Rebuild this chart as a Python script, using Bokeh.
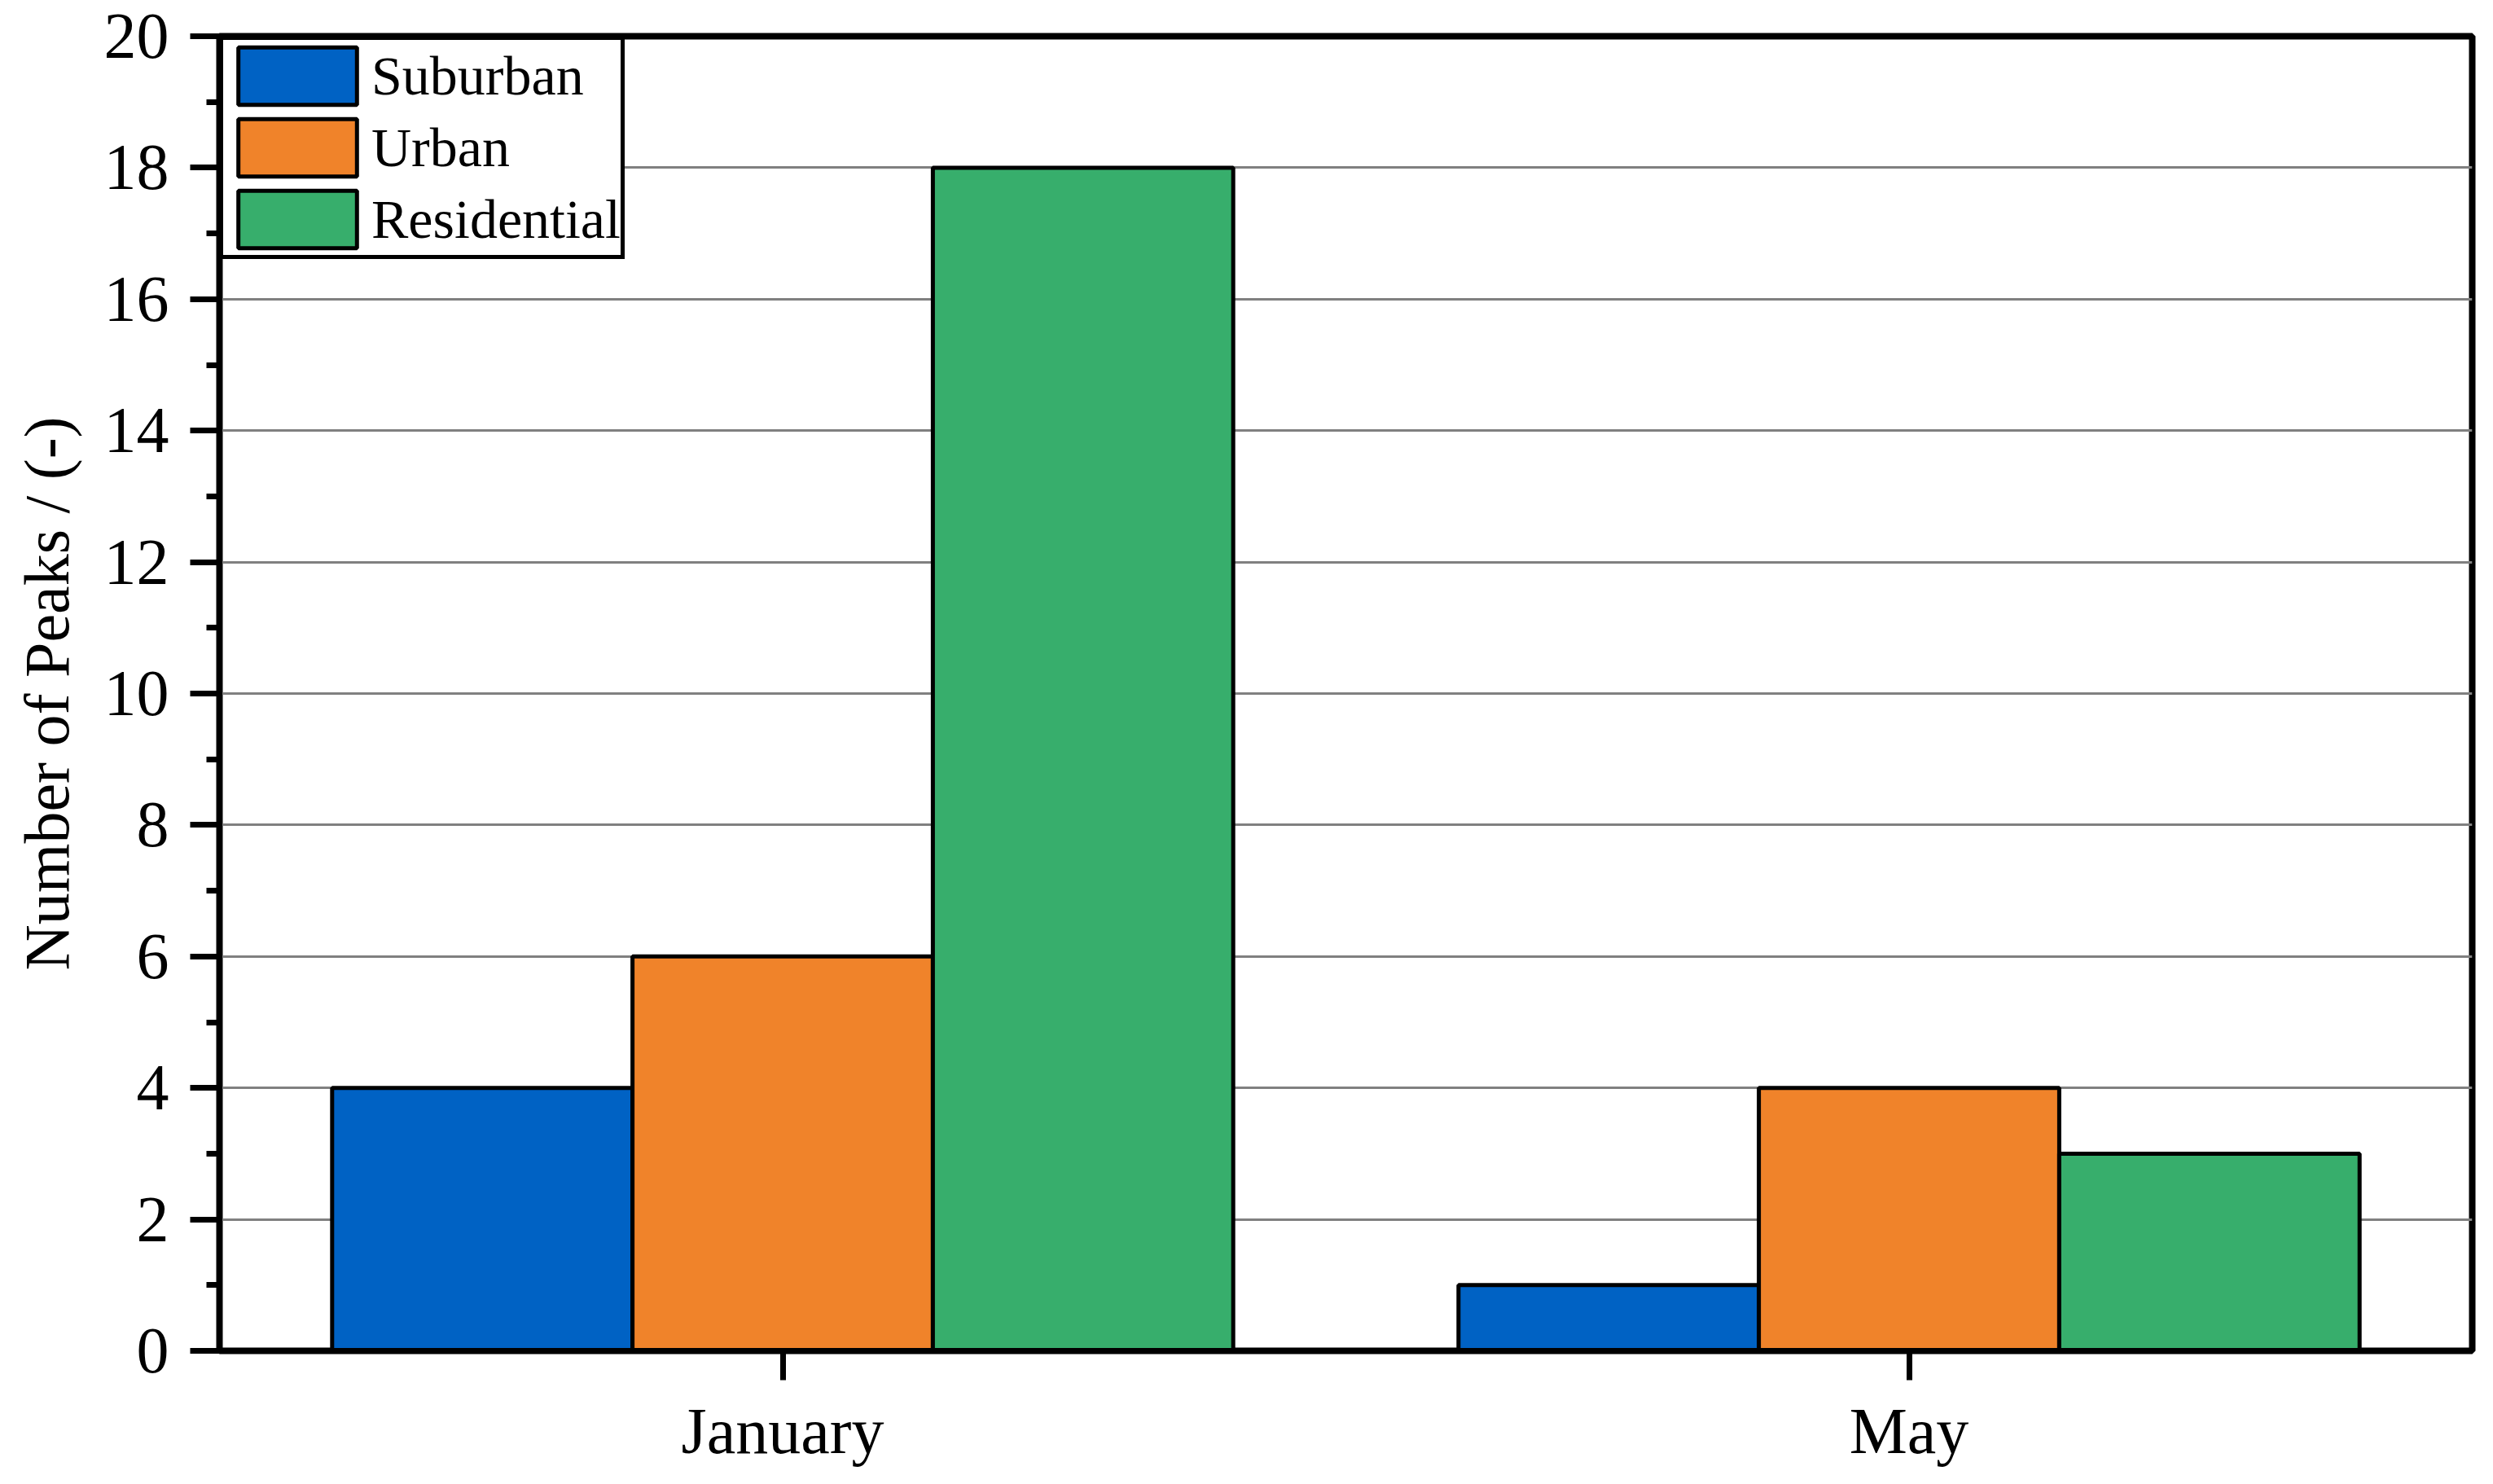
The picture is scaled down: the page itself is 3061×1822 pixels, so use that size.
from bokeh.plotting import figure
from bokeh.models import ColumnDataSource, FactorRange, Range1d, SingleIntervalTicker, Legend, LegendItem
from bokeh.transform import dodge
from bokeh.embed import file_html
from bokeh.resources import INLINE

months = ["January", "May"]
suburban = [4, 1]
urban = [6, 4]
residential = [18, 3]
series_names = ["Suburban", "Urban", "Residential"]
colors = ["#0062C4", "#F0832A", "#37AE6C"]

source = ColumnDataSource(dict(month=months, Suburban=suburban, Urban=urban, Residential=residential))

FONT = "Liberation Serif"

p = figure(width=3045, height=1806, output_backend="svg", toolbar_location=None,
           x_range=FactorRange(factors=months, range_padding=0),
           y_range=Range1d(0, 20),
           min_border_left=269, min_border_right=10, min_border_top=44, min_border_bottom=148)

bw = 0.8 / 3
offsets = [-bw, 0.0, bw]
renderers = []
for name, col, off in zip(series_names, colors, offsets):
    r = p.vbar(x=dodge("month", off, range=p.x_range), top=name, width=bw, source=source,
               fill_color=col, line_color="black", line_width=5)
    renderers.append(r)

legend = Legend(items=[LegendItem(label=n, renderers=[r]) for n, r in zip(series_names, renderers)],
                location="top_left")
legend.label_text_font = FONT
legend.label_text_font_size = "68px"
legend.label_text_color = "black"
legend.glyph_width = 182
legend.glyph_height = 88
legend.spacing = 0
legend.padding = 0
legend.margin = 0
legend.label_standoff = 0
legend.border_line_color = "black"
legend.border_line_alpha = 1.0
legend.border_line_width = 5
legend.background_fill_color = "white"
legend.background_fill_alpha = 1.0
p.add_layout(legend, "center")

p.outline_line_color = "black"
p.outline_line_alpha = 1.0
p.outline_line_width = 8

p.xgrid.grid_line_color = None
p.ygrid.grid_line_color = "#808080"
p.ygrid.grid_line_alpha = 1.0
p.ygrid.grid_line_width = 3

p.yaxis.ticker = SingleIntervalTicker(interval=2, num_minor_ticks=2)

for ax in (p.xaxis[0], p.yaxis[0]):
    ax.axis_line_width = 7
    ax.axis_line_color = "black"
    ax.major_tick_line_width = 7
    ax.major_tick_line_color = "black"
    ax.minor_tick_line_width = 7
    ax.minor_tick_line_color = "black"
    ax.major_tick_in = 0
    ax.major_tick_out = 36
    ax.minor_tick_in = 0
    ax.minor_tick_out = 16
    ax.major_label_text_font = FONT
    ax.major_label_text_font_size = "80px"
    ax.major_label_text_color = "black"
    ax.axis_label_text_font = FONT
    ax.axis_label_text_font_size = "78px"
    ax.axis_label_text_font_style = "normal"
    ax.axis_label_text_color = "black"

p.xaxis.major_label_standoff = 18
p.yaxis.major_label_standoff = 26
p.yaxis.axis_label = "Number of Peaks / (-)"
p.yaxis.axis_label_standoff = 24

open("out.html", "w").write(file_html(p, INLINE))
